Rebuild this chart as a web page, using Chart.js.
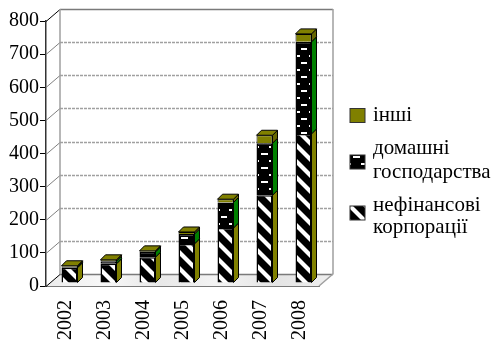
<!DOCTYPE html>
<html><head><meta charset="utf-8">
<style>html,body{margin:0;padding:0;background:#fff}canvas{display:block}</style>
<script src="https://cdn.jsdelivr.net/npm/chart.js@4/dist/chart.umd.min.js"></script>
</head><body><canvas id="c" width="494" height="345"></canvas>
<script>
const years = ['2002','2003','2004','2005','2006','2007','2008'];
const corporations = [46,58,78,118,166,265,450];
const households = [3,8,16,30,77,157,278];
const others = [3,4,3,6,10,24,24];
const yTicks = [0,100,200,300,400,500,600,700,800];
const labelCorporations = ['нефінансові','корпорації'];
const labelHouseholds = ['домашні','господарства'];
const labelOthers = ['інші'];

const OLIVE='#808000', GREEN='#008000', GRID='#a0a0a0', FONT='"Liberation Serif"';
function tile(w,h,draw){const c=document.createElement('canvas');c.width=w;c.height=h;const x=c.getContext('2d');draw(x);return x.createPattern(c,'repeat');}
const stripes=tile(16,16,x=>{x.fillStyle='#000';x.fillRect(0,0,16,16);x.strokeStyle='#fff';x.lineWidth=4.2;
  x.beginPath();x.moveTo(-2,-2);x.lineTo(18,18);x.stroke();
  x.beginPath();x.moveTo(14,-2);x.lineTo(18,2);x.stroke();
  x.beginPath();x.moveTo(-2,14);x.lineTo(2,18);x.stroke();});
const dashes=tile(16,14,x=>{x.fillStyle='#000';x.fillRect(0,0,16,14);x.fillStyle='#fff';x.fillRect(1,2,7,2);x.fillRect(9,9,6,2);});

// legend rows: y of each text line, box centre; the text comes from the label arrays
const legendRows=[
  {ds:2,box:115.5,lines:[115]},
  {ds:1,box:162,lines:[148,172]},
  {ds:0,box:213,lines:[205,227]}
];

const wall={name:'wall',
  beforeDatasetsDraw(ch){
    const c=ch.ctx,y=ch.scales.y,L=ch.chartArea.left,R=ch.chartArea.right,dx=14,dy=-12;
    const b=y.getPixelForValue(0),t=y.getPixelForValue(800);
    c.save();
    const g=c.createLinearGradient(L,0,R+dx,0);
    ['#ececec','#f8f8f8','#e8e8e8','#f4f4f4','#e4e4e4','#f0f0f0'].forEach((s,i)=>g.addColorStop(i/5,s));
    c.fillStyle=g;c.beginPath();c.moveTo(L,b);c.lineTo(L+dx,b+dy);c.lineTo(R+dx,b+dy);c.lineTo(R,b);c.closePath();c.fill();
    yTicks.forEach(v=>{const p=Math.round(y.getPixelForValue(v))+0.5;const edge=v===0||v===800;
      c.setLineDash(edge?[]:[3,1]);c.strokeStyle=edge?'#7a7a7a':GRID;c.lineWidth=edge?1.5:1.3;
      c.beginPath();c.moveTo(L+dx,p+dy);c.lineTo(R+dx,p+dy);c.stroke();c.setLineDash([]);
      c.lineWidth=1;c.strokeStyle=edge?'#000':'#808080';
      c.beginPath();c.moveTo(L,p);c.lineTo(L+dx,p+dy);c.stroke();});
    c.strokeStyle=GRID;c.lineWidth=1.5;
    c.beginPath();c.moveTo(L+dx,t+dy);c.lineTo(L+dx,b+dy);c.moveTo(R+dx,t+dy);c.lineTo(R+dx,b+dy);c.lineTo(R,b);c.stroke();
    c.restore();
    c.save();c.translate(4,-3);
  },
  afterDatasetsDraw(ch){
    const c=ch.ctx,d=5;
    const sides=[OLIVE,GREEN,'#666600'];
    ch.data.datasets.forEach((ds,i)=>{ch.getDatasetMeta(i).data.forEach(e=>{
      const r=e.x+e.width/2,l=e.x-e.width/2;
      c.fillStyle=sides[i];c.strokeStyle='#000';c.lineWidth=1;
      c.beginPath();c.moveTo(r,e.y);c.lineTo(r+d,e.y-d);c.lineTo(r+d,e.base-d);c.lineTo(r,e.base);c.closePath();c.fill();c.stroke();
      if(i===2){c.fillStyle=OLIVE;c.beginPath();c.moveTo(l,e.y);c.lineTo(l+d,e.y-d);c.lineTo(r+d,e.y-d);c.lineTo(r,e.y);c.closePath();c.fill();c.stroke();}
    });});
    c.restore();
    c.save();
    c.font='21px '+FONT;c.textBaseline='middle';c.textAlign='left';
    legendRows.forEach(row=>{const ds=ch.data.datasets[row.ds];
      c.fillStyle=ds.backgroundColor;c.strokeStyle='#333';c.lineWidth=1;
      c.fillRect(350,row.box-7,15,14);c.strokeRect(350,row.box-7,15,14);
      c.fillStyle='#000';
      ds.label.forEach((t,i)=>c.fillText(t,373,row.lines[i]));
    });
    c.restore();
  }
};

new Chart(document.getElementById('c'),{
  type:'bar',
  data:{labels:years,datasets:[
    {label:labelCorporations,data:corporations,backgroundColor:stripes,borderColor:'#000',borderWidth:1.5},
    {label:labelHouseholds,data:households,backgroundColor:dashes,borderColor:'#000',borderWidth:1.5},
    {label:labelOthers,data:others,backgroundColor:OLIVE,borderColor:'#000',borderWidth:1}
  ]},
  plugins:[wall],
  options:{
    responsive:false,animation:false,
    layout:{padding:{top:21,right:175,left:0,bottom:0}},
    datasets:{bar:{barPercentage:16/39,categoryPercentage:1}},
    plugins:{tooltip:{enabled:false},legend:{display:false}},
    scales:{
      x:{stacked:true,grid:{display:false},border:{color:'#7a7a7a',width:2},
        afterFit(s){s.height=59;},
        ticks:{color:'#000',font:{family:FONT,size:20},minRotation:90,maxRotation:90,padding:6,autoSkip:false}},
      y:{stacked:true,min:0,max:800,
        grid:{drawOnChartArea:false,drawTicks:true,tickLength:6,color:'#000'},
        border:{color:'#333',width:1.5},
        afterFit(s){s.width=46;},
        afterBuildTicks(s){s.ticks=yTicks.map(v=>({value:v}));},
        ticks:{color:'#000',font:{family:FONT,size:20},padding:1}}
    }
  }
});
</script></body></html>
